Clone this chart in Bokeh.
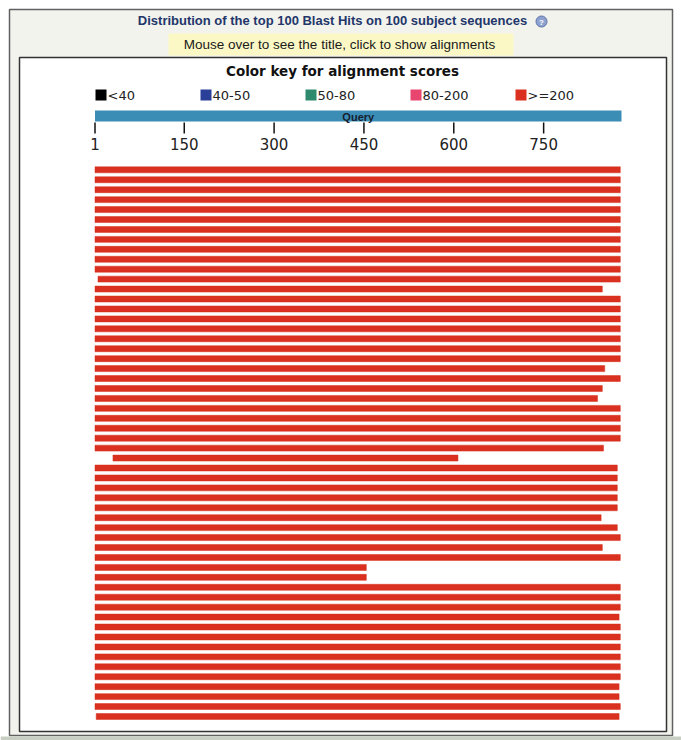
from bokeh.plotting import figure
from bokeh.models import Range1d, Label, ColumnDataSource
from bokeh.core.properties import value
from bokeh.embed import file_html
from bokeh.resources import INLINE

# ---------------- data ----------------
query_length = 880
tick_values = [1, 150, 300, 450, 600, 750]
tick_labels = ["1", "150", "300", "450", "600", "750"]
score_bins = ["<40", "40-50", "50-80", "80-200", ">=200"]
score_colors = ["#000000", "#2a3f98", "#2e8a6c", "#e8466e", "#d9301f"]

hit_start = [1, 1, 1, 1, 1, 1, 1, 1, 1, 1,
             1, 6, 1, 1, 1, 1, 1, 1, 1, 1,
             1, 1, 1, 1, 1, 1, 1, 1, 1, 31,
             1, 1, 1, 1, 1, 1, 1, 1, 1, 1,
             1, 1, 1, 1, 1, 1, 1, 1, 1, 1,
             1, 1, 1, 1, 1, 3]
hit_end = [878, 878, 878, 878, 878, 878, 878, 878, 878, 878,
           878, 878, 848, 878, 878, 878, 878, 878, 878, 878,
           852, 878, 848, 840, 878, 878, 878, 878, 850, 607,
           873, 873, 873, 873, 873, 846, 873, 878, 848, 878,
           454, 454, 878, 878, 878, 876, 878, 878, 878, 878,
           878, 878, 876, 876, 878, 876]
hit_bin = [">=200"] * len(hit_end)

# ---------------- layout (page pixels) ----------------
W, H = 681, 740
M = 0
X_AT_1, X_AT_END = 94.5, 621.0
ROW0_Y, ROW_PITCH = 169.3, 9.94

k = (X_AT_END - X_AT_1) / (query_length - 1)
x_lo = 1 - (X_AT_1 - M) / k
x_hi = x_lo + W / k
y_top = -(ROW0_Y - M) / ROW_PITCH
y_bot = y_top + H / ROW_PITCH


def X(px):
    return x_lo + (px - M) / k


def Y(py):
    return y_top + (py - M) / ROW_PITCH


p = figure(width=W, height=H, x_range=Range1d(x_lo, x_hi), y_range=Range1d(y_bot, y_top),
           output_backend="svg", toolbar_location=None, min_border=0,
           x_axis_location=None, y_axis_location=None)
p.grid.visible = False
p.outline_line_color = None
p.background_fill_color = "white"
p.border_fill_color = "white"

# outer panel
p.quad(left=[X(9)], right=[X(672)], top=[Y(9)], bottom=[Y(735)],
       fill_color="#f3f3ee", line_color="#606060", line_width=1.5)
p.quad(left=[X(0)], right=[X(681)], top=[Y(736)], bottom=[Y(741)],
       fill_color="#c9cec2", line_color=None)
# yellow tip box
p.quad(left=[X(168)], right=[X(513)], top=[Y(33)], bottom=[Y(55)],
       fill_color="#fbf8c6", line_color=None)
# inner white panel
p.quad(left=[X(19)], right=[X(666)], top=[Y(57)], bottom=[Y(731)],
       fill_color="white", line_color="#333333", line_width=1.5)

font_ui = "Liberation Sans"
font_key = "DejaVu Sans"

p.add_layout(Label(x=X(332), y=Y(20), text="Distribution of the top 100 Blast Hits on 100 subject sequences",
                   text_font=font_ui, text_font_style="bold", text_font_size="13px",
                   text_color="#22366a", text_align="center", text_baseline="middle"))
p.scatter(x=[X(541)], y=[Y(21)], size=11, marker="circle",
          fill_color="#8ea2cf", line_color="#5c72a8")
p.add_layout(Label(x=X(541), y=Y(21.5), text="?", text_font=font_ui, text_font_style="bold",
                   text_font_size="8px", text_color="white", text_align="center",
                   text_baseline="middle"))
p.add_layout(Label(x=X(339), y=Y(44), text="Mouse over to see the title, click to show alignments",
                   text_font=font_ui, text_font_size="13.5px", text_color="#1a1a1a",
                   text_align="center", text_baseline="middle"))
p.add_layout(Label(x=X(342), y=Y(70), text="Color key for alignment scores",
                   text_font=font_key, text_font_style="bold", text_font_size="13.5px",
                   text_color="#111111", text_align="center", text_baseline="middle"))

# colour key
LEG_X = [95, 200, 305, 410, 515]
SW = 11
p.quad(left=[X(a) for a in LEG_X], right=[X(a + SW) for a in LEG_X],
       top=[Y(89)] * len(LEG_X), bottom=[Y(100)] * len(LEG_X),
       fill_color=score_colors, line_color=None)
p.text(x=[X(a + SW + 1) for a in LEG_X], y=[Y(95)] * len(LEG_X), text=score_bins,
       text_font=value(font_key), text_font_size="13px", text_color="#222222",
       text_align="left", text_baseline="middle")

# query bar + ruler
p.quad(left=[1], right=[query_length], top=[Y(110)], bottom=[Y(121)],
       fill_color="#3b8db6", line_color=None)
p.text(x=[(1 + query_length) / 2], y=[Y(116)], text=["Query"],
       text_font=value(font_ui), text_font_style="bold", text_font_size="11px",
       text_color="#14202e", text_align="center", text_baseline="middle")
p.segment(x0=tick_values, y0=[Y(122)] * len(tick_values), x1=tick_values,
          y1=[Y(133)] * len(tick_values), line_color="#111111", line_width=1.5)
p.text(x=tick_values, y=[Y(143)] * len(tick_values), text=tick_labels,
       text_font=value(font_key), text_font_size="15px", text_color="#222222",
       text_align="center", text_baseline="middle")

# hits
color_of = dict(zip(score_bins, score_colors))
src = ColumnDataSource(dict(
    row=list(range(len(hit_end))),
    left=hit_start,
    right=hit_end,
    color=[color_of[b] for b in hit_bin],
))
p.hbar(y="row", left="left", right="right", height=0.6, fill_color="color",
       line_color="color", line_width=0.5, source=src)

open("out.html", "w").write(file_html(p, INLINE))
